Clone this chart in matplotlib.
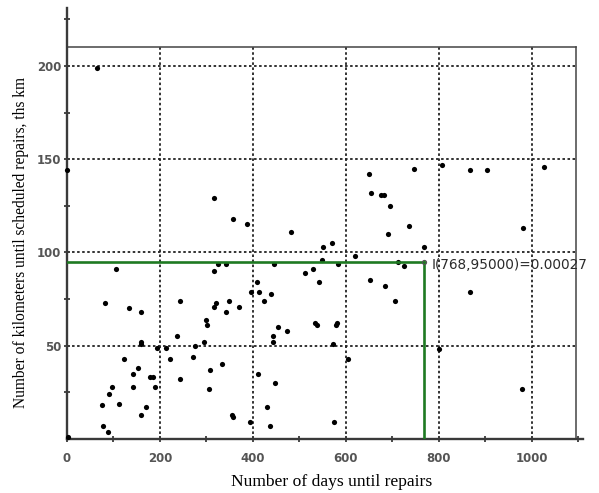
import matplotlib
matplotlib.use('Agg')
import matplotlib.pyplot as plt

# ---- data ----
days = [65, 0, 316, 357, 387, 482,
        650, 746, 806, 868, 904, 1026,
        654, 675, 683, 695, 735, 690, 981,
        551, 571, 767,
        549, 619, 584, 446, 343, 712, 726,
        513, 529, 543, 651, 684,
        409, 396, 414, 424, 439, 349, 369, 706,
        867,
        533, 538, 578, 581, 573, 605, 801, 978, 575,
        454, 473, 444, 444, 411, 447, 431, 354, 357, 394, 437,
        105, 317, 325,
        82, 133, 159, 317, 320,
        298, 301, 343, 243, 236, 295, 275, 159, 159,
        193, 214, 221, 123, 153, 143, 143, 97, 91,
        75, 112, 159, 171, 178, 184, 189, 243, 271,
        333, 307, 306, 77, 89, 3]
km = [199, 144, 129, 118, 115, 111,
      142, 145, 147, 144, 144, 146,
      132, 131, 131, 125, 114, 110, 113,
      103, 105, 103,
      96, 98, 94, 94, 94, 95, 93,
      89, 91, 84, 85, 82,
      84, 79, 79, 74, 78, 74, 71, 74,
      79,
      62, 61, 61, 62, 51, 43, 48, 27, 9,
      60, 58, 55, 52, 35, 30, 17, 13, 12, 9, 7,
      91, 90, 94,
      73, 70, 68, 71, 73,
      64, 61, 68, 74, 55, 52, 50, 52, 51,
      49, 49, 43, 43, 38, 35, 28, 28, 24,
      18, 19, 13, 17, 33, 33, 28, 32, 44,
      40, 37, 27, 7, 4, 1]

x_ticks = [0, 200, 400, 600, 800, 1000]
y_ticks = [50, 100, 150, 200]
x_minor = [100, 300, 500, 700, 900]
y_minor = [25, 75, 125, 175]

sel_x, sel_y = 768, 95
sel_label = "I(768,95000)=0.00027"
x_title = "Number of days until repairs"
y_title = "Number of kilometers until scheduled repairs, ths km"

W, H = 599, 493
fig = plt.figure(figsize=(W / 100, H / 100), dpi=100)
ax = fig.add_axes([67 / W, 1 - 439 / H, 509 / W, (439 - 47.3) / H])
ax.set_xlim(0, 1095)
ax.set_ylim(0, 210)

axis_col = '#3a3a3a'
ax.set_xticks(x_ticks)
ax.set_yticks(y_ticks)
ax.set_xticks(x_minor, minor=True)
ax.set_yticks(y_minor, minor=True)
ax.grid(True, which='major', linestyle=(0, (1.4, 1.4)), linewidth=1.3, color='#222')
ax.set_axisbelow(True)

for s in ['left', 'bottom']:
    ax.spines[s].set_visible(False)
for s in ['top', 'right']:
    ax.spines[s].set_color('#444')
    ax.spines[s].set_linewidth(1.1)

ax.tick_params(which='both', direction='inout', length=4, width=1.3, color=axis_col,
               top=False, right=False)
ax.tick_params(axis='x', which='major', pad=7, labelsize=8.5, labelcolor='#555')
ax.tick_params(axis='y', which='major', pad=2, labelsize=8.5, labelcolor='#555')
for lab in ax.get_xticklabels() + ax.get_yticklabels():
    lab.set_fontweight('bold')

# extended axis lines
ax.plot([0, 0], [0, 231], color=axis_col, lw=1.7, clip_on=False, zorder=3)
ax.plot([0, 1110], [0, 0], color=axis_col, lw=1.7, clip_on=False, zorder=3)
ax.plot([0], [225], marker='_', ms=5, mew=1.3, color=axis_col, clip_on=False)
ax.plot([1100], [0], marker='|', ms=5, mew=1.3, color=axis_col, clip_on=False)

# points
ax.scatter(days, km, s=14, color='black', zorder=4, clip_on=False, linewidths=0)

# green cross-hair
green = '#1e7a22'
ax.plot([0, sel_x], [sel_y, sel_y], color=green, lw=1.9, zorder=5)
ax.plot([sel_x, sel_x], [0, sel_y], color=green, lw=1.9, zorder=5)
ax.plot([sel_x], [sel_y], marker='o', ms=3, mfc='none', mec='#555', mew=0.8, zorder=6)
ax.text(785, 93.2, sel_label, fontsize=9.8, color='#2a2a2a', va='center', ha='left',
        family='DejaVu Sans')

fig.text(332 / W, 1 - 481.5 / H, x_title, ha='center', va='center',
         fontsize=12.6, family='Liberation Serif')
fig.text(21 / W, 1 - 242.5 / H, y_title, ha='center', va='center', rotation=90,
         fontsize=11.2, family='Liberation Serif')

fig.savefig('out.png', dpi=100)
